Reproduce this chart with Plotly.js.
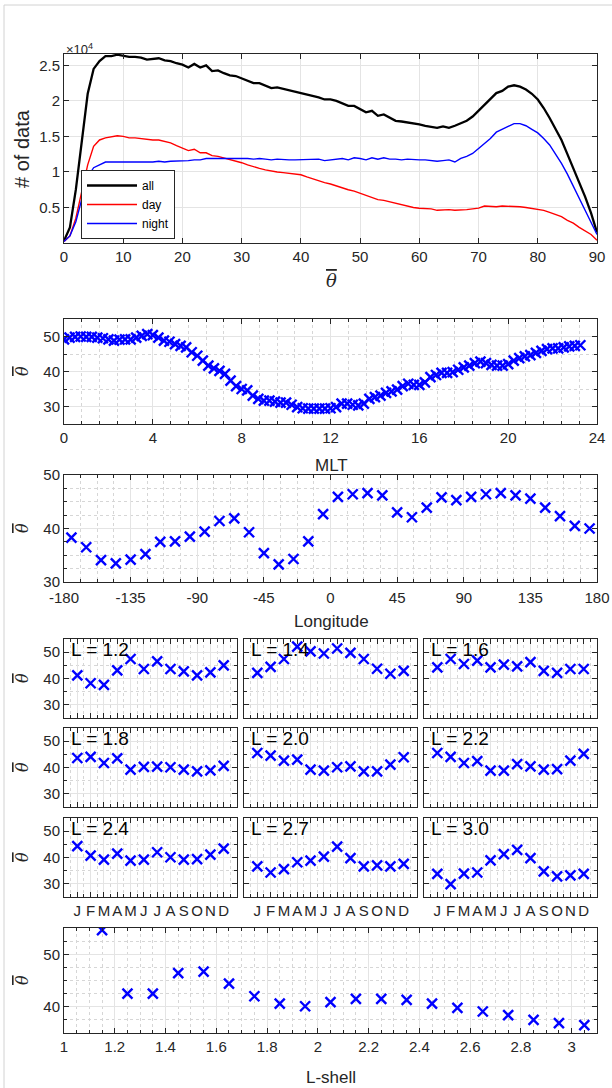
<!DOCTYPE html>
<html><head><meta charset="utf-8">
<script src="https://cdn.plot.ly/plotly-3.0.1.min.js"></script>
<style>html,body{margin:0;padding:0;background:#fff}#chart{width:612px;height:1088px}</style>
</head><body><div id="chart"></div>
<script>
// ---------- DATA ----------
const thetaBins = [0,1,2,3,4,5,6,7,8,9,10,11,12,13,14,15,16,17,18,19,20,21,22,23,24,25,26,27,28,29,30,31,32,33,34,35,36,37,38,39,40,41,42,43,44,45,46,47,48,49,50,51,52,53,54,55,56,57,58,59,60,61,62,63,64,65,66,67,68,69,70,71,72,73,74,75,76,77,78,79,80,81,82,83,84,85,86,87,88,89,90];
// counts in units of 10^4
const countAll = [0.03,0.22,0.75,1.45,2.1,2.45,2.56,2.63,2.63,2.65,2.63,2.62,2.62,2.61,2.58,2.59,2.6,2.57,2.56,2.53,2.51,2.47,2.52,2.47,2.5,2.42,2.43,2.39,2.36,2.35,2.32,2.29,2.25,2.25,2.22,2.18,2.19,2.17,2.15,2.14,2.12,2.1,2.08,2.05,2.02,2.02,2.0,1.97,1.93,1.93,1.89,1.84,1.86,1.79,1.81,1.77,1.72,1.71,1.7,1.68,1.67,1.65,1.63,1.62,1.64,1.62,1.65,1.68,1.72,1.78,1.86,1.95,2.03,2.11,2.14,2.2,2.22,2.2,2.16,2.1,2.02,1.9,1.76,1.61,1.45,1.25,1.05,0.85,0.65,0.42,0.15];
const countDay = [0.02,0.1,0.35,0.75,1.1,1.36,1.45,1.48,1.49,1.51,1.5,1.48,1.48,1.47,1.45,1.45,1.45,1.43,1.41,1.37,1.34,1.3,1.32,1.27,1.27,1.23,1.22,1.2,1.18,1.16,1.13,1.1,1.07,1.05,1.03,1.01,1.0,0.99,0.98,0.97,0.96,0.93,0.9,0.88,0.85,0.83,0.8,0.77,0.75,0.73,0.7,0.66,0.64,0.61,0.6,0.58,0.56,0.54,0.51,0.5,0.49,0.49,0.48,0.46,0.47,0.47,0.46,0.46,0.47,0.48,0.49,0.52,0.51,0.51,0.52,0.52,0.52,0.51,0.5,0.49,0.48,0.46,0.43,0.4,0.37,0.32,0.28,0.22,0.17,0.12,0.04];
const countNight = [0.02,0.1,0.3,0.62,0.93,1.06,1.1,1.14,1.14,1.14,1.13,1.13,1.14,1.13,1.13,1.14,1.15,1.14,1.15,1.15,1.16,1.16,1.17,1.17,1.19,1.19,1.2,1.19,1.19,1.19,1.19,1.19,1.18,1.19,1.18,1.17,1.18,1.17,1.17,1.17,1.17,1.17,1.18,1.18,1.16,1.17,1.18,1.19,1.17,1.2,1.19,1.17,1.2,1.18,1.2,1.18,1.18,1.17,1.18,1.17,1.17,1.17,1.16,1.15,1.16,1.17,1.14,1.19,1.22,1.26,1.33,1.4,1.47,1.56,1.6,1.63,1.68,1.68,1.65,1.6,1.55,1.47,1.38,1.25,1.12,0.97,0.8,0.62,0.45,0.28,0.12];
const countTickVals = [0.5,1,1.5,2,2.5];
const countTickText = ['0.5','1','1.5','2','2.5'];

const mltHours = [0,0.25,0.5,0.75,1,1.25,1.5,1.75,2,2.25,2.5,2.75,3,3.25,3.5,3.75,4,4.25,4.5,4.75,5,5.25,5.5,5.75,6,6.25,6.5,6.75,7,7.25,7.5,7.75,8,8.25,8.5,8.75,9,9.25,9.5,9.75,10,10.25,10.5,10.75,11,11.25,11.5,11.75,12,12.25,12.5,12.75,13,13.25,13.5,13.75,14,14.25,14.5,14.75,15,15.25,15.5,15.75,16,16.25,16.5,16.75,17,17.25,17.5,17.75,18,18.25,18.5,18.75,19,19.25,19.5,19.75,20,20.25,20.5,20.75,21,21.25,21.5,21.75,22,22.25,22.5,22.75,23,23.25];
const mltTheta = [49.2,49.7,49.9,50.0,49.9,49.9,49.7,49.5,49.2,48.8,49.1,49.2,49.2,49.7,50.2,50.7,50.4,49.7,48.8,48.5,47.8,47.3,46.9,45.5,44.5,43.1,41.7,40.9,40.2,39.3,37.4,35.8,35.0,
 34.6,33.1,32.2,31.7,31.7,31.4,31.1,31.1,30.5,29.8,29.5,29.4,29.4,29.4,29.4,29.5,29.8,30.8,30.8,30.5,30.3,30.8,32.2,32.7,33.1,33.9,34.3,34.8,35.8,36.5,36.2,
 36.2,
 36.9,38.4,39.0,39.6,39.6,39.8,40.5,41.2,41.7,42.4,42.8,42.4,41.9,41.7,41.7,42.1,43.1,43.8,44.3,44.7,45.3,45.9,46.4,46.6,46.6,46.9,47.2,47.3,47.5];

const lonCenters = [-175,-165,-155,-145,-135,-125,-115,-105,-95,-85,-75,-65,-55,-45,-35,-25,-15,-5,5,15,25,35,45,55,65,75,85,95,105,115,125,135,145,155,165,175];
const lonTheta = [38.3,36.5,34.1,33.5,34.2,35.2,37.5,37.6,38.5,39.4,41.4,41.9,39.3,35.4,33.3,34.3,37.6,42.7,45.9,46.4,46.6,46.2,43.0,42.1,43.9,45.8,45.3,45.9,46.4,46.6,46.2,45.6,43.9,42.3,40.5,40.0];
const lonTickVals = [-180,-135,-90,-45,0,45,90,135,180];
const lonTickText = ['-180','-135','-90','-45','0','45','90','135','180'];

const monthIndex = [1,2,3,4,5,6,7,8,9,10,11,12];
const monthLabels = ['J','F','M','A','M','J','J','A','S','O','N','D'];
const shellLabels = ['L = 1.2','L = 1.4','L = 1.6','L = 1.8','L = 2.0','L = 2.2','L = 2.4','L = 2.7','L = 3.0'];
const thetaL12 = [41.2,38.2,37.6,43.1,47.4,43.6,46.5,43.6,42.7,41.2,42.3,45.0];
const thetaL14 = [42.1,44.4,47.4,52.1,50.3,49.5,51.4,49.7,47.4,43.7,41.8,42.9];
const thetaL16 = [44.2,47.4,45.5,46.8,44.2,45.3,44.6,46.2,42.9,42.1,43.6,43.6];
const thetaL18 = [43.6,44.0,41.7,43.5,39.2,40.2,40.3,40.1,39.2,38.5,38.9,40.6];
const thetaL20 = [45.5,44.5,42.6,43.0,39.2,38.8,40.1,40.4,38.5,38.5,41.1,43.9];
const thetaL22 = [45.5,44.0,41.7,42.4,38.8,38.8,41.3,40.4,39.2,39.4,42.6,45.2];
const thetaL24 = [44.3,40.7,39.2,41.5,38.8,39.2,42.0,40.1,39.2,39.4,41.1,43.4];
const thetaL27 = [36.6,34.3,35.6,38.2,38.8,40.3,44.1,39.8,36.6,37.0,36.6,37.6];
const thetaL30 = [33.8,29.9,33.9,34.3,38.9,41.3,42.9,39.8,34.7,32.8,33.2,33.8];
const monthlySeries = [thetaL12,thetaL14,thetaL16,thetaL18,thetaL20,thetaL22,thetaL24,thetaL27,thetaL30];

const lShell = [1.15,1.25,1.35,1.45,1.55,1.65,1.75,1.85,1.95,2.05,2.15,2.25,2.35,2.45,2.55,2.65,2.75,2.85,2.95,3.05];
const lShellTheta = [54.6,42.5,42.5,46.4,46.7,44.4,42.0,40.6,40.1,40.9,41.5,41.5,41.3,40.6,39.8,39.1,38.4,37.5,36.9,36.5];

// ---------- STYLE / LAYOUT ----------
const W = 612, H = 1088;
const FONT = 'Liberation Sans, Arial, Helvetica, sans-serif';
const AXC = '#262626';
const BLUE = '#0000ff';
const px = p => p / W;
const py = p => 1 - p / H;
const THETA = '<span style="text-decoration:overline"><i>θ</i></span>';

function axis(domain, range, extra) {
  return Object.assign({
    domain: domain, range: range, showline: true, linecolor: AXC, linewidth: 1,
    mirror: 'ticks', ticks: 'inside', ticklen: 5, tickwidth: 1, tickcolor: AXC,
    showgrid: true, gridcolor: '#e4e4e4', gridwidth: 1, zeroline: false, fixedrange: true,
    tickfont: {family: FONT, size: 15, color: AXC}
  }, extra || {});
}
function minor(dt, tick0) {
  const m = {dtick: dt, ticks: 'inside', ticklen: 3, tickcolor: AXC, showgrid: true, gridcolor: '#d6d6d6', griddash: 'dot', gridwidth: 1};
  if (tick0 !== undefined) m.tick0 = tick0;
  return m;
}
function xMarkers(x, y, xa, ya, size) {
  return {x: x, y: y, xaxis: xa, yaxis: ya, type: 'scatter', mode: 'markers', showlegend: false,
    hoverinfo: 'skip', marker: {symbol: 'x-thin', size: size, color: BLUE, line: {width: 2.4, color: BLUE}}};
}

const XD = [px(64), px(597)];
const data = [];
const layout = {
  width: W, height: H, margin: {l: 0, r: 0, t: 0, b: 0}, paper_bgcolor: '#fff', plot_bgcolor: '#fff',
  showlegend: true, font: {family: FONT, color: AXC},
  legend: {x: px(81), y: py(170), xanchor: 'left', yanchor: 'top', bgcolor: '#fff', bordercolor: AXC, borderwidth: 1,
    font: {family: FONT, size: 12, color: '#000'}, tracegroupgap: 0, itemwidth: 50},
  annotations: [], shapes: []
};

// Panel 1: counts
data.push({x: thetaBins, y: countAll, xaxis: 'x', yaxis: 'y', type: 'scatter', mode: 'lines', name: 'all', line: {color: '#000', width: 2.3}, hoverinfo: 'skip'});
data.push({x: thetaBins, y: countDay, xaxis: 'x', yaxis: 'y', type: 'scatter', mode: 'lines', name: 'day', line: {color: '#ff0000', width: 1.4}, hoverinfo: 'skip'});
data.push({x: thetaBins, y: countNight, xaxis: 'x', yaxis: 'y', type: 'scatter', mode: 'lines', name: 'night', line: {color: '#0000ff', width: 1.4}, hoverinfo: 'skip'});
layout.xaxis = axis(XD, [0, 90], {anchor: 'y', dtick: 10, tick0: 0});
layout.yaxis = axis([py(243), py(54)], [0, 2.66], {anchor: 'x', tickvals: countTickVals, ticktext: countTickText});

// Panel 2: MLT
data.push(xMarkers(mltHours, mltTheta, 'x2', 'y2', 10));
layout.xaxis2 = axis(XD, [0, 24], {anchor: 'y2', dtick: 4, tick0: 0, minor: minor(0.8, 0)});
layout.yaxis2 = axis([py(424), py(319)], [25, 55], {anchor: 'x2', tickvals: [30, 40, 50], minor: minor(5, 0)});

// Panel 3: Longitude
data.push(xMarkers(lonCenters, lonTheta, 'x3', 'y3', 10));
layout.xaxis3 = axis(XD, [-180, 180], {anchor: 'y3', tickvals: lonTickVals, ticktext: lonTickText, minor: minor(11.25, 0), ticklabelstandoff: 2});
layout.yaxis3 = axis([py(582), py(475)], [30, 50], {anchor: 'x3', tickvals: [30, 40, 50], minor: minor(2.5, 0)});

// Panels 4-12: monthly by L
const colX = [[64, 237], [244, 417], [424, 597]];
const rowY = [[639, 718], [728, 807], [818, 897]];
for (let i = 0; i < 9; i++) {
  const r = Math.floor(i / 3), c = i % 3, n = i + 4;
  data.push(xMarkers(monthIndex, monthlySeries[i], 'x' + n, 'y' + n, 10));
  layout['xaxis' + n] = axis([px(colX[c][0]), px(colX[c][1])], [0, 13], {anchor: 'y' + n,
    tickvals: monthIndex, ticktext: monthLabels, showticklabels: r === 2, minor: minor(0.5, 0)});
  layout['yaxis' + n] = axis([py(rowY[r][1]), py(rowY[r][0])], [25, 55], {anchor: 'x' + n,
    tickvals: [30, 40, 50], showticklabels: c === 0, minor: minor(5, 0)});
  layout.annotations.push({xref: 'x' + n + ' domain', yref: 'y' + n + ' domain', x: 0.03, y: 1.03, xanchor: 'left', yanchor: 'top',
    text: shellLabels[i], showarrow: false, font: {family: FONT, size: 19, color: '#000'}});
}

// Panel 13: L-shell
data.push(xMarkers(lShell, lShellTheta, 'x13', 'y13', 10));
layout.xaxis13 = axis(XD, [1, 3.1], {anchor: 'y13', dtick: 0.2, tick0: 1, minor: minor(0.05, 1)});
layout.yaxis13 = axis([py(1033), py(928)], [35, 55], {anchor: 'x13', tickvals: [40, 50], minor: minor(2.5, 0)});

// Axis titles (annotations)
function ttl(x, y, text, size, angle, serif) {
  layout.annotations.push({xref: 'paper', yref: 'paper', x: px(x), y: py(y), xanchor: 'center', yanchor: 'middle',
    text: text, showarrow: false, textangle: angle || 0,
    font: {family: serif ? 'DejaVu Serif, Liberation Serif, serif' : FONT, size: size, color: AXC}});
}
ttl(22, 149, '# of data', 20, -90);
ttl(331, 280, THETA, 18, 0, true);
ttl(22, 371, THETA, 16, -90, true);
ttl(331, 466, 'MLT', 17);
ttl(22, 528, THETA, 16, -90, true);
ttl(331, 621, 'Longitude', 17);
ttl(22, 678, THETA, 16, -90, true);
ttl(22, 767, THETA, 16, -90, true);
ttl(22, 857, THETA, 16, -90, true);
ttl(22, 980, THETA, 16, -90, true);
ttl(331, 1077, 'L-shell', 17);
// exponent label
layout.annotations.push({xref: 'paper', yref: 'paper', x: px(64), y: py(49), xanchor: 'left', yanchor: 'middle',
  text: '×10<sup>4</sup>', showarrow: false, font: {family: FONT, size: 13, color: AXC}});

// figure frame
layout.shapes.push({type: 'line', xref: 'paper', yref: 'paper', x0: px(4), x1: 1.02, y0: py(5), y1: py(5), line: {color: '#d2d2d2', width: 1}});
layout.shapes.push({type: 'line', xref: 'paper', yref: 'paper', x0: px(4), x1: px(4), y0: py(5), y1: -0.02, line: {color: '#d2d2d2', width: 1}});

Plotly.newPlot('chart', data, layout, {staticPlot: true, displayModeBar: false});
</script></body></html>
